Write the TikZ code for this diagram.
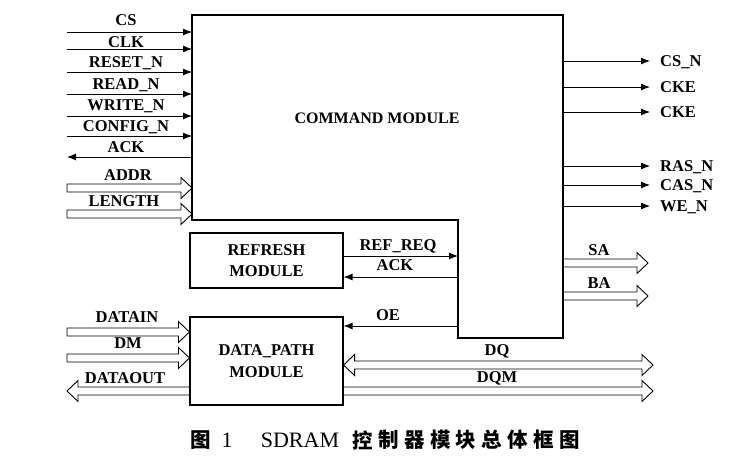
\documentclass[tikz,border=0pt]{standalone}
\usepackage{fontspec}
\setmainfont{Liberation Serif}
\newfontfamily\cjk{Noto Sans CJK SC}
\usetikzlibrary{arrows.meta,calc}
\newcommand\busR[3][]{\draw[bus] ($(#2)+(0,-4)$) -- ($(#3)+(-11,-4)$) -- ($(#3)+(-11,-10.5)$) -- (#3) -- ($(#3)+(-11,10.5)$) -- ($(#3)+(-11,4)$) -- ($(#2)+(0,4)$) #1;}
\newcommand\busL[2]{\draw[bus] ($(#2)+(0,-4)$) -- ($(#1)+(11,-4)$) -- ($(#1)+(11,-10.5)$) -- (#1) -- ($(#1)+(11,10.5)$) -- ($(#1)+(11,4)$) -- ($(#2)+(0,4)$);}
\newcommand\busLR[2]{\draw[bus] (#1) -- ($(#1)+(11,-10.5)$) -- ($(#1)+(11,-4)$) -- ($(#2)+(-11,-4)$) -- ($(#2)+(-11,-10.5)$) -- (#2) -- ($(#2)+(-11,10.5)$) -- ($(#2)+(-11,4)$) -- ($(#1)+(11,4)$) -- ($(#1)+(11,10.5)$) -- cycle;}
\begin{document}
\begin{tikzpicture}[x=1pt,y=-1pt,
  sig/.style={line width=0.9pt,-{Latex[length=9pt,width=7pt]}},
  lbl/.style={font=\bfseries\fontsize{16.5}{18}\selectfont, inner sep=0pt, anchor=base},
  rlbl/.style={lbl, anchor=base west},
  boxst/.style={draw, line width=1.1pt, inner sep=0pt, align=center,
     font=\bfseries\fontsize{16.5}{21.5}\selectfont},
  bus/.style={line width=0.9pt, line join=miter},
  cj/.style={font=\cjk\bfseries\fontsize{20.5}{21}\selectfont, inner sep=0pt}
]
\useasboundingbox (0,0) rectangle (742,464);

% command module
\draw[line width=1.1pt] (192,15) -- (563,15) -- (563,338) -- (458,338) -- (458,220) -- (192,220) -- cycle;
\node[font=\bfseries\fontsize{16}{18}\selectfont, inner sep=0pt] (cmd) at (377,118) {COMMAND MODULE};

% left inputs
\foreach \n/\y/\b/\t in {cs/32/25/CS, clk/49/47/CLK, rst/72/67/RESET\_N, rd/94/89/READ\_N, wr/116/110/WRITE\_N, cfg/136/131/CONFIG\_N}{
  \coordinate (in\n) at (67,\y);
  \coordinate (cm\n) at (192,\y);
  \draw[sig] (in\n) -- (cm\n);
  \node[lbl] (l\n) at (126,\b) {\t};
}
\coordinate (ackout) at (67,157);
\coordinate (ackcm) at (192,157);
\draw[sig] (ackcm) -- (ackout);
\node[lbl] (lack) at (126,152) {ACK};

\coordinate (addrin) at (67,188);
\coordinate (addrcm) at (192,188);
\busR[-- cycle]{addrin}{addrcm}
\node[lbl] (laddr) at (128,180) {ADDR};
\coordinate (lenin) at (67,214);
\coordinate (lencm) at (192,214);
\busR[-- cycle]{lenin}{lencm}
\node[lbl] (llen) at (124,206) {LENGTH};

% right outputs
\foreach \n/\y/\t in {csn/61/CS\_N, ckea/87/CKE, ckeb/112/CKE, ras/166/RAS\_N, cas/185/CAS\_N, we/206/WE\_N}{
  \coordinate (o\n) at (563,\y);
  \coordinate (t\n) at (650,\y);
  \draw[sig] (o\n) -- (t\n);
  \node[rlbl] (l\n) at (660,\y+5.5) {\t};
}
\coordinate (sao) at (563,263);
\coordinate (sat) at (648,263);
\busR{sao}{sat}
\node[lbl] (lsa) at (599,255) {SA};
\coordinate (bao) at (563,296);
\coordinate (bat) at (648,296);
\busR{bao}{bat}
\node[lbl] (lba) at (599,288) {BA};

% refresh module
\node[boxst, minimum width=153pt, minimum height=55pt] (ref) at (266.5,260.5) {REFRESH\\MODULE};
\coordinate (rrq) at (458,256);
\draw[sig] (ref.east |- rrq) -- (rrq);
\node[lbl] (lrrq) at (398,250) {REF\_REQ};
\coordinate (rack) at (458,277);
\draw[sig] (rack) -- (ref.east |- rack);
\node[lbl] (lrack) at (395,270) {ACK};

% data path module
\node[boxst, minimum width=153pt, minimum height=88pt] (dp) at (266.5,361) {DATA\_PATH\\MODULE};
\coordinate (oe) at (458,326);
\draw[sig] (oe) -- (dp.east |- oe);
\node[lbl] (loe) at (388,320) {OE};

\coordinate (dinin) at (67,332);
\busR[-- cycle]{dinin}{dp.west |- dinin}
\node[lbl] (ldin) at (127,322) {DATAIN};
\coordinate (dmin) at (67,358);
\busR[-- cycle]{dmin}{dp.west |- dmin}
\node[lbl] (ldm) at (128,348) {DM};
\coordinate (doutt) at (67,391);
\busL{doutt}{dp.west |- doutt}
\node[lbl] (ldout) at (125,383) {DATAOUT};

\coordinate (dqt) at (653,365);
\busLR{dp.east |- dqt}{dqt}
\node[lbl] (ldq) at (497,355) {DQ};
\coordinate (dqmt) at (653,391);
\busR{dp.east |- dqmt}{dqmt}
\node[lbl] (ldqm) at (497,382) {DQM};

% caption
\node[cj] (cfig) at (201,440) {图};
\node[font=\fontsize{22}{24}\selectfont, inner sep=0pt] (cone) at (227,440) {1};
\node[font=\fontsize{22}{24}\selectfont, inner sep=0pt] (csd) at (300,440) {SDRAM};
\foreach \c [count=\i from 0] in {控,制,器,模,块,总,体,框,图}{
  \node[cj] (cc\i) at (363+25.8*\i,440) {\c};
}
\end{tikzpicture}
\end{document}
